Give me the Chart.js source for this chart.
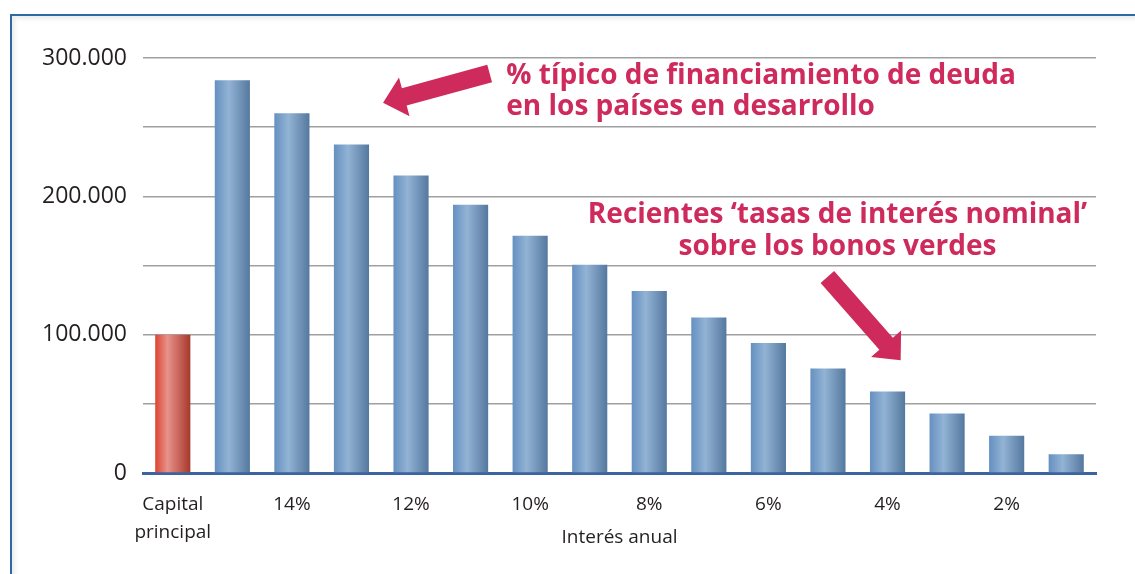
<!DOCTYPE html>
<html>
<head>
<meta charset="utf-8">
<script src="https://cdn.jsdelivr.net/npm/chart.js@4/dist/chart.umd.min.js"></script>
<style>
    body { margin: 0; background: #fff; }
    #wrap { position: relative; width: 1135px; height: 574px; overflow: hidden; }
    #frame {
        position: absolute; left: 10px; top: 14px; width: 1200px; height: 700px;
        border-top: 2px solid #2e6aa1; border-left: 2px solid #2e6aa1;
        box-shadow: inset 3px 3px 4px rgba(0, 0, 0, 0.08);
    }
    canvas { position: absolute; left: 0; top: 0; }
</style>
</head>
<body>
<div id="wrap">
    <div id="frame"></div>
    <canvas id="chart" width="1135" height="574"></canvas>
</div>
<script>
// categories and values
const categories = ['Capital principal', '15%', '14%', '13%', '12%', '11%', '10%', '9%',
    '8%', '7%', '6%', '5%', '4%', '3%', '2%', '1%'];
const totals = [100000, 284000, 260000, 237500, 215000, 194000, 171500, 150500,
    131500, 112500, 94000, 75500, 59000, 43000, 27000, 13500];
const tickLabels = ['Capital principal', '', '14%', '', '12%', '', '10%', '', '8%', '',
    '6%', '', '4%', '', '2%', ''];
const yTicks = [0, 100000, 200000, 300000];

const annoColor = '#cf2a5c';
const annoFont = 'bold 28px "Open Sans", sans-serif';

const barPct = 0.59;

function fmt(v) {
    return String(v).replace(/\B(?=(\d{3})+(?!\d))/g, '.');
}

function barFill(ctx) {
    const chart = ctx.chart;
    const x = chart.scales.x;
    if (!chart.chartArea || !x) return '#6b93c0';
    const cx = x.getPixelForValue(ctx.dataIndex);
    const half = (x.width / categories.length) * barPct / 2;
    const g = chart.ctx.createLinearGradient(cx - half, 0, cx + half, 0);
    if (ctx.dataIndex === 0) {
        g.addColorStop(0, '#dc4434');
        g.addColorStop(0.35, '#e8928a');
        g.addColorStop(1, '#a7382c');
    } else {
        g.addColorStop(0, '#6590c1');
        g.addColorStop(0.4, '#92b3d4');
        g.addColorStop(1, '#55789f');
    }
    return g;
}

function arrow(c, x0, y0, x1, y1) {
    const dx = x1 - x0, dy = y1 - y0;
    const len = Math.hypot(dx, dy);
    const ux = dx / len, uy = dy / len;
    const px = -uy, py = ux;
    const sw = 9, hw = 20, hl = 22;
    const bx = x1 - ux * hl, by = y1 - uy * hl;
    c.beginPath();
    c.moveTo(x0 + px * sw, y0 + py * sw);
    c.lineTo(bx + px * sw, by + py * sw);
    c.lineTo(bx + px * hw, by + py * hw);
    c.lineTo(x1, y1);
    c.lineTo(bx - px * hw, by - py * hw);
    c.lineTo(bx - px * sw, by - py * sw);
    c.lineTo(x0 - px * sw, y0 - py * sw);
    c.closePath();
    c.fill();
}

const notes = {
    id: 'notes',
    afterDraw(chart) {
        const c = chart.ctx;
        const x = chart.scales.x, y = chart.scales.y;
        c.save();
        c.fillStyle = annoColor;
        arrow(c, x.getPixelForValue(5.32), y.getPixelForValue(288800),
            x.getPixelForValue(3.53), y.getPixelForValue(267700));
        arrow(c, x.getPixelForValue(10.99), y.getPixelForValue(141700),
            x.getPixelForValue(12.22), y.getPixelForValue(81500));
        c.font = annoFont;
        c.textBaseline = 'alphabetic';
        c.textAlign = 'left';
        const lx = x.getPixelForValue(5.6);
        c.fillText('% típico de financiamiento de deuda', lx, y.getPixelForValue(281500));
        c.fillText('en los países en desarrollo', lx, y.getPixelForValue(259000));
        c.textAlign = 'center';
        const cx = x.getPixelForValue(11.16);
        c.fillText('Recientes \u2018tasas de interés nominal\u2019', cx, y.getPixelForValue(180800));
        c.fillText('sobre los bonos verdes', cx, y.getPixelForValue(157600));
        c.restore();
    },
};

new Chart(document.getElementById('chart'), {
    type: 'bar',
    data: {
        labels: categories,
        datasets: [{
            data: totals,
            backgroundColor: barFill,
            borderWidth: 0,
            barPercentage: barPct,
            categoryPercentage: 1,
        }],
    },
    options: {
        responsive: false,
        animation: false,
        devicePixelRatio: 1,
        layout: { padding: { left: 11, right: 39, top: 58, bottom: 0 } },
        plugins: { legend: { display: false }, tooltip: { enabled: false } },
        scales: {
            x: {
                afterFit: (s) => { s.height = 101; },
                grid: { display: false },
                border: { display: true, color: '#3b64a0', width: 3 },
                ticks: {
                    autoSkip: false,
                    maxRotation: 0,
                    padding: 10,
                    color: '#231f20',
                    font: { family: '"Open Sans", sans-serif', size: 19, lineHeight: 1.45 },
                    callback: (v, i) => {
                        const t = tickLabels[i];
                        return t.includes(' ') ? t.split(' ') : t;
                    },
                },
                title: {
                    display: true,
                    text: 'Interés anual',
                    color: '#231f20',
                    font: { family: '"Open Sans", sans-serif', size: 19 },
                    padding: { top: 0, bottom: 25 },
                },
            },
            y: {
                min: 0,
                max: 300000,
                afterFit: (s) => { s.width = 132; },
                border: { display: false },
                grid: { color: '#a0a0a0', lineWidth: 1.5, drawTicks: false },
                ticks: {
                    stepSize: 50000,
                    padding: 16,
                    color: '#231f20',
                    font: { family: '"Open Sans", sans-serif', size: 23 },
                    callback: (v) => (yTicks.includes(v) ? fmt(v) : ''),
                },
            },
        },
    },
    plugins: [notes],
});
</script>
</body>
</html>
